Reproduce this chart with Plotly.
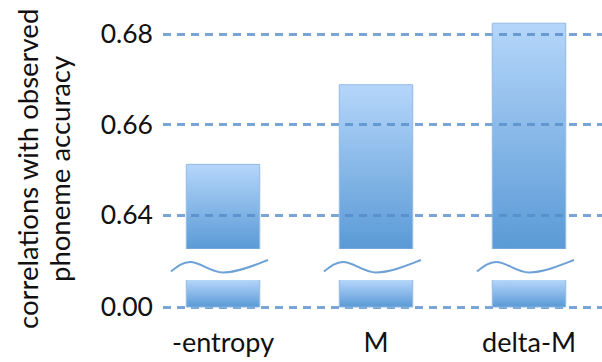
import base64
import plotly.graph_objects as go

# ---- data ----
categories = ["-entropy", "M", "delta-M"]
correlations = [0.6512, 0.6688, 0.6824]
upper_ticks = [0.64, 0.66, 0.68]
upper_tick_labels = ["0.64", "0.66", "0.68"]
lower_ticks = [0.0]
lower_tick_labels = ["0.00"]
axis_break_low = 0.6325   # where the upper (broken) axis starts
y_title_lines = ["correlations with observed", "phoneme accuracy"]

# ---- geometry / style ----
W, H = 602, 362
ML, MR, MT, MB = 163, 0, 0, 50
PW, PH = W - ML - MR, H - MT - MB
CAT_PX = 153.0          # pixels between category centres
FIRST_CENTER_PX = 223.0
BAR_W = 0.48
UPPER_PX_PER_UNIT = 4525.0
UPPER_BOTTOM_PX = 249.0  # pixel row of upper panel bottom
LOWER_TOP_PX = 280.0
ZERO_PX = 307.0
LOWER_K = 0.0002

FONT = "Lato"
TXT = "#111111"
GRID = "rgba(85,140,200,0.78)"
EDGE = "#8DB7E3"
WAVE = "#6EA2D6"

idx = list(range(len(categories)))

x_lo = -(FIRST_CENTER_PX - ML) / CAT_PX
x_hi = x_lo + PW / CAT_PX

def paper_y(py):
    return (MT + PH - py) / PH

def paper_x(px):
    return (px - ML) / PW

upper_domain = [paper_y(UPPER_BOTTOM_PX), 1.0]
upper_range = [axis_break_low, axis_break_low + (UPPER_BOTTOM_PX - MT) / UPPER_PX_PER_UNIT]
lower_domain = [0.0, paper_y(LOWER_TOP_PX)]
lower_range = [-(MT + PH - ZERO_PX) * LOWER_K, (ZERO_PX - LOWER_TOP_PX) * LOWER_K]

svg = ('<svg xmlns="http://www.w3.org/2000/svg" width="10" height="100" preserveAspectRatio="none">'
       '<defs><linearGradient id="g" x1="0" y1="0" x2="0" y2="1">'
       '<stop offset="0" stop-color="#B5D6FA"/><stop offset="1" stop-color="#5A9AD6"/>'
       '</linearGradient></defs><rect width="10" height="100" fill="url(#g)"/></svg>')
grad_uri = "data:image/svg+xml;base64," + base64.b64encode(svg.encode()).decode()

fig = go.Figure()

# upper panel bars (from break to value)
fig.add_trace(go.Bar(
    x=idx, y=[v - axis_break_low for v in correlations], base=axis_break_low,
    width=BAR_W, yaxis="y", xaxis="x",
    marker=dict(color="rgba(0,0,0,0)", line=dict(color=EDGE, width=1)),
    hoverinfo="skip", showlegend=False))
# lower panel bars (from zero, clipped by the panel)
fig.add_trace(go.Bar(
    x=idx, y=correlations, width=BAR_W, yaxis="y2", xaxis="x",
    marker=dict(color="rgba(0,0,0,0)", line=dict(color=EDGE, width=1)),
    hoverinfo="skip", showlegend=False))

images = []
for i, v in zip(idx, correlations):
    images.append(dict(source=grad_uri, xref="x", yref="y", x=i - BAR_W / 2, y=v,
                       sizex=BAR_W, sizey=v - axis_break_low, xanchor="left", yanchor="top",
                       sizing="stretch", layer="below"))
    top = min(v, lower_range[1])
    images.append(dict(source=grad_uri, xref="x", yref="y2", x=i - BAR_W / 2, y=top,
                       sizex=BAR_W, sizey=top, xanchor="left", yanchor="top",
                       sizing="stretch", layer="below"))

# break (wave) marks
shapes = []
for i in idx:
    def P(dx, py):
        return f"{i + dx / CAT_PX:.5f},{paper_y(py):.5f}"
    path = ("M" + P(-52, 271.5) +
            " C" + P(-45, 266) + " " + P(-40, 262) + " " + P(-33, 262) +
            " C" + P(-22, 262) + " " + P(-13, 272.5) + " " + P(0, 272.5) +
            " C" + P(15, 272.5) + " " + P(32, 265) + " " + P(45, 260))
    shapes.append(dict(type="path", xref="x", yref="paper", path=path,
                       line=dict(color=WAVE, width=2)))

annotations = []
for line_text, cx in zip(y_title_lines, [27, 59]):
    annotations.append(dict(text=line_text, xref="paper", yref="paper",
                            x=paper_x(cx), y=paper_y(169), xanchor="center", yanchor="middle",
                            textangle=-90, showarrow=False,
                            font=dict(size=27.5, family=FONT, color=TXT)))

fig.update_layout(
    width=W, height=H,
    margin=dict(l=ML, r=MR, t=MT, b=MB),
    paper_bgcolor="white", plot_bgcolor="rgba(0,0,0,0)",
    barmode="overlay",
    font=dict(family=FONT, color=TXT, size=24),
    xaxis=dict(range=[x_lo, x_hi], tickvals=idx, ticktext=categories,
               showgrid=False, zeroline=False, showline=False, ticks="",
               anchor="y2", tickfont=dict(size=27), ticklabelstandoff=12),
    yaxis=dict(domain=upper_domain, range=upper_range, tickvals=upper_ticks,
               ticktext=upper_tick_labels, showgrid=True, gridcolor=GRID,
               gridwidth=2.5, griddash="8px,6px", zeroline=False, showline=False,
               ticks="", tickfont=dict(size=26.5), ticklabelstandoff=9, anchor="x"),
    yaxis2=dict(domain=lower_domain, range=lower_range, tickvals=lower_ticks,
                ticktext=lower_tick_labels, showgrid=True, gridcolor=GRID,
                gridwidth=2.5, griddash="8px,6px", zeroline=False, showline=False,
                ticks="", tickfont=dict(size=26.5), ticklabelstandoff=9, anchor="x"),
    images=images,
    shapes=shapes,
    annotations=annotations,
)

fig.write_html("out.html")
